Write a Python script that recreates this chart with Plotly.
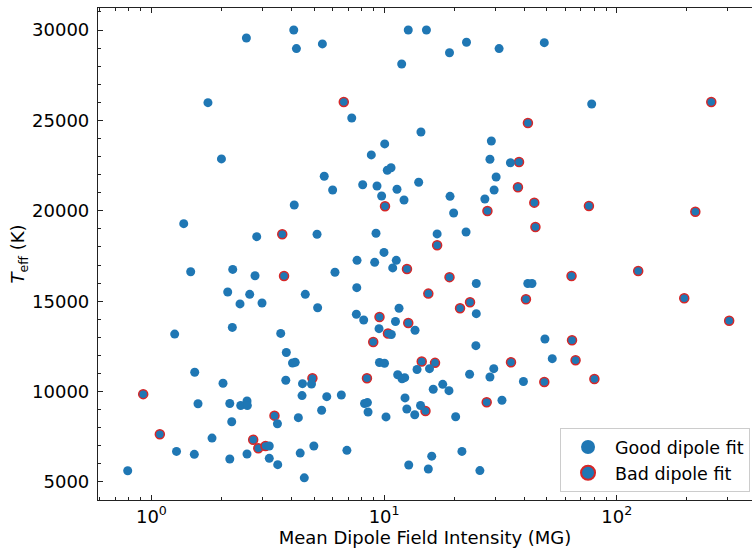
import plotly.graph_objects as go

# ---- data ----
good_B = [2.56, 4.09, 4.20, 5.43, 12.7, 15.2, 11.9, 22.6, 19.1, 31.2, 48.8, 1.75, 78.0, 7.26,
          14.4, 10.06, 28.9, 2.00, 8.81, 28.5, 34.9, 10.32, 10.71, 5.53, 30.3, 6.01, 8.09, 9.32,
          9.76, 11.36, 12.18, 14.08, 4.11, 29.7, 27.1, 19.2, 19.9, 16.9, 22.5, 1.377, 2.835, 5.15,
          9.23, 9.99, 7.65, 9.11, 11.28, 10.89, 1.475, 2.236, 2.788, 6.15, 7.63, 2.128, 2.645,
          2.403, 2.988, 4.585, 5.18, 7.60, 8.17, 11.59, 11.19, 9.51, 13.58, 1.259, 2.227, 3.595,
          10.74, 24.9, 41.45, 43.2, 24.9, 49.1, 3.80, 4.04, 4.15, 9.55, 10.04, 13.85, 15.67,
          1.535, 2.031, 3.78, 4.46, 4.875, 11.44, 11.94, 12.26, 1.586, 2.172, 2.42, 2.576, 2.584,
          4.44, 5.67, 6.55, 8.24, 8.48, 8.53, 12.30, 12.52, 13.54, 14.34, 10.19, 5.39, 3.48, 4.28,
          2.214, 1.822, 3.21, 1.282, 1.529, 2.172, 2.576, 3.21, 3.49, 4.36, 4.99, 6.92, 4.54,
          0.791, 12.76, 15.49, 24.8, 52.8, 29.6, 28.5, 23.3, 39.7, 17.86, 16.26, 19.0, 32.1, 20.3,
          21.6, 16.02, 25.8]
good_T = [29560, 30000, 28970, 29230, 30000, 30000, 28120, 29320, 28740, 28970, 29300, 25980,
          25910, 25130, 24360, 23700, 23860, 22870, 23090, 22850, 22660, 22240, 22380, 21910,
          21870, 21150, 21440, 21370, 20820, 21190, 20600, 21580, 20320, 21150, 20650, 20800,
          19880, 18720, 18830, 19290, 18570, 18700, 18760, 17700, 17260, 17150, 17260, 16840,
          16630, 16760, 16410, 16600, 15750, 15510, 15380, 14850, 14900, 15380, 14640, 14280,
          13960, 14610, 13880, 13480, 13390, 13180, 13550, 13220, 13160, 15980, 15980, 15980,
          14310, 12910, 12160, 11580, 11620, 11610, 11570, 11220, 11270, 11070, 10460, 10630,
          10440, 10420, 10930, 10710, 10770, 9330, 9340, 9230, 9480, 9230, 9780, 9720, 9810,
          9340, 9390, 8870, 9650, 9040, 8720, 9230, 8600, 8970, 8220, 8560, 8330, 7430, 6990,
          6690, 6530, 6270, 6550, 6310, 5960, 6600, 6990, 6750, 5230, 5620, 5940, 5720, 12540,
          11820, 11270, 10810, 10960, 10560, 10400, 10130, 10050, 9520, 8610, 6690, 6430, 5630]

bad_B = [6.71, 254.7, 41.5, 38.0, 10.09, 27.8, 37.6, 44.2, 75.9, 217.5, 44.7, 16.9, 3.65, 12.54,
         3.715, 15.49, 9.555, 12.7, 10.39, 8.98, 19.1, 63.9, 123.6, 23.4, 21.2, 40.7, 194.9, 304.0,
         64.2, 14.51, 16.55, 4.92, 8.44, 0.922, 15.06, 3.38, 1.087, 2.738, 2.88, 3.093, 66.5, 35.1,
         48.8, 80.1, 27.6]
bad_T = [26020, 26020, 24860, 22700, 20250, 19990, 21300, 20450, 20270, 19950, 19100, 18090,
         18700, 16780, 16390, 15420, 14130, 13790, 13210, 12740, 16330, 16390, 16670, 14940,
         14610, 15110, 15160, 13920, 12840, 11660, 11590, 10740, 10740, 9860, 8930, 8670, 7640,
         7340, 6870, 6990, 11730, 11620, 10530, 10700, 9410]

labels = ["Good dipole fit", "Bad dipole fit"]
x_major = [1, 10, 100]
x_major_text = ["10<sup>0</sup>", "10<sup>1</sup>", "10<sup>2</sup>"]
x_minor = [0.6, 0.7, 0.8, 0.9, 2, 3, 4, 5, 6, 7, 8, 9, 20, 30, 40, 50, 60, 70, 80, 90, 200, 300]
y_major = [5000, 10000, 15000, 20000, 25000, 30000]
y_major_text = ["5000", "10000", "15000", "20000", "25000", "30000"]

BLUE = "#1f77b4"
RED = "#d62728"
FONT = "DejaVu Sans"
FS = 18

fig = go.Figure()
# bad fits (drawn first, good fits on top)
fig.add_trace(go.Scatter(x=bad_B, y=bad_T, mode="markers", name=labels[1], showlegend=False,
                         marker=dict(size=9, color=BLUE, line=dict(color=RED, width=1.5))))
fig.add_trace(go.Scatter(x=good_B, y=good_T, mode="markers", name=labels[0], showlegend=False,
                         marker=dict(size=9, color=BLUE, line=dict(width=0))))
# legend entries (larger symbols as in the reference)
fig.add_trace(go.Scatter(x=[None], y=[None], mode="markers", name=labels[0], legendrank=1,
                         marker=dict(size=14, color=BLUE, line=dict(width=0))))
fig.add_trace(go.Scatter(x=[None], y=[None], mode="markers", name=labels[1], legendrank=2,
                         marker=dict(size=14, color=BLUE, line=dict(color=RED, width=2))))

axis_common = dict(showgrid=False, zeroline=False, showline=True, linecolor="#222",
                   linewidth=1.2, ticks="inside", tickcolor="#222", tickwidth=1,
                   tickfont=dict(family=FONT, size=FS, color="black"))

fig.update_xaxes(type="log", range=[-0.2295, 2.581], mirror="allticks",
                 tickvals=x_major, ticktext=x_major_text, ticklen=5,
                 minor=dict(tickvals=x_minor, ticks="inside", ticklen=3, tickcolor="#222"),
                 title=dict(text="Mean Dipole Field Intensity (MG)",
                            font=dict(family=FONT, size=FS, color="black"), standoff=5),
                 **axis_common)
fig.update_yaxes(range=[4004, 31217], mirror=False, tickvals=y_major, ticktext=y_major_text,
                 ticklen=5,
                 minor=dict(dtick=1000, ticks="inside", ticklen=3, tickcolor="#222"),
                 ticklabelstandoff=4,
                 title=dict(text="<i>T</i><sub>eff</sub> (K)",
                            font=dict(family=FONT, size=FS, color="black"), standoff=2),
                 **axis_common)

fig.update_layout(
    width=752, height=550,
    margin=dict(l=98, r=0, t=8, b=50),
    plot_bgcolor="white", paper_bgcolor="white",
    font=dict(family=FONT, size=FS, color="black"),
    legend=dict(x=0.997, y=0.016, xanchor="right", yanchor="bottom", itemwidth=44,
                tracegroupgap=0,
                bgcolor="rgba(255,255,255,0.8)", bordercolor="#cccccc", borderwidth=1,
                font=dict(family=FONT, size=17.5, color="black"), traceorder="normal"),
)

fig.write_html("out.html")
